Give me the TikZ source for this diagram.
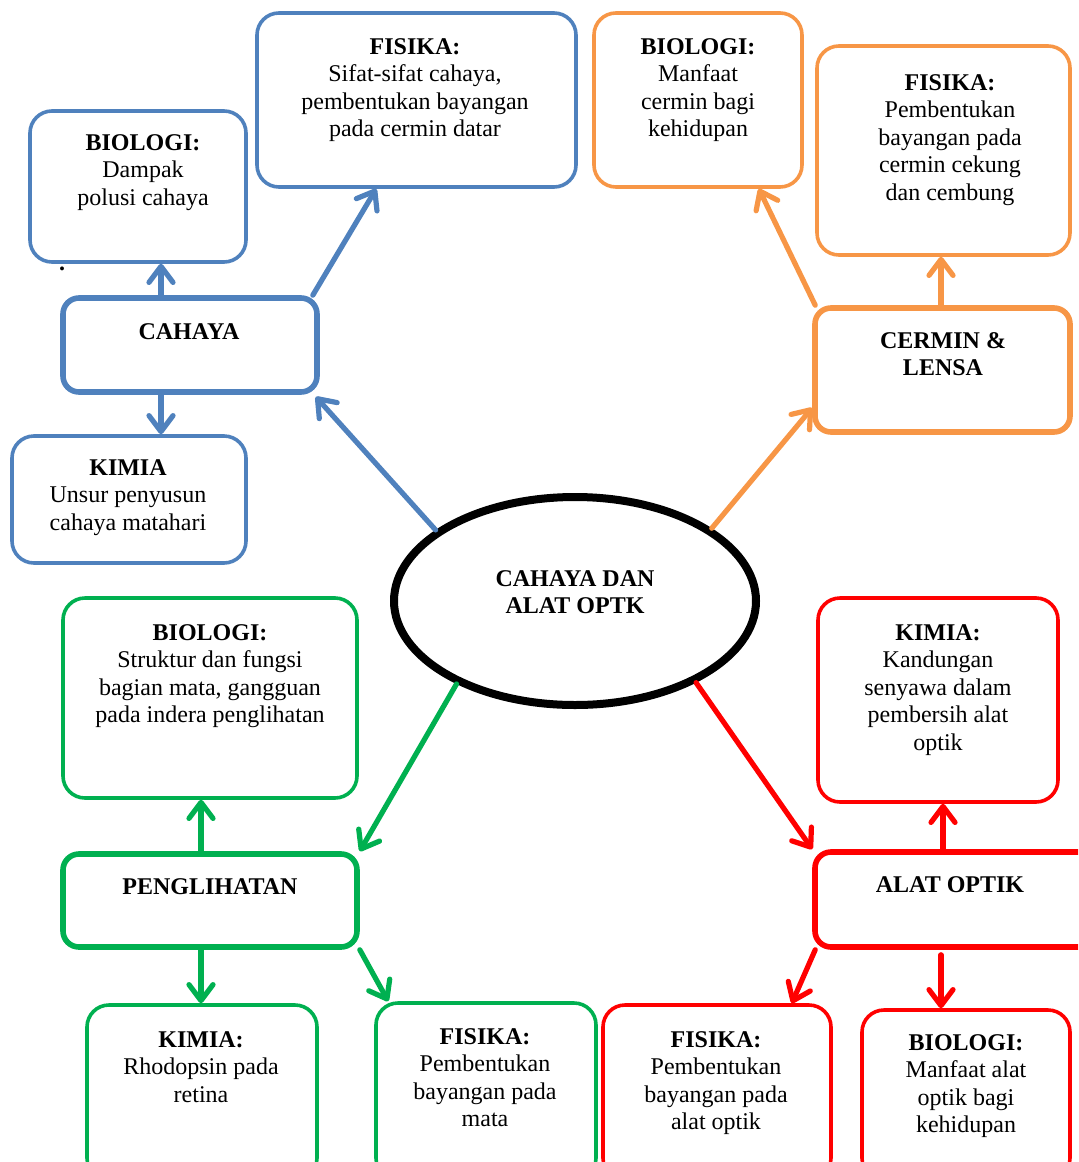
\documentclass[tikz,border=0pt]{standalone}
\usepackage{fontspec}
\setmainfont{Liberation Serif}
\usetikzlibrary{arrows.meta,calc,shapes.geometric}
\definecolor{cblue}{HTML}{4F81BD}
\definecolor{corange}{HTML}{F79646}
\definecolor{cgreen}{HTML}{00B050}
\definecolor{cred}{HTML}{FF0000}
\newcommand\mkbox[6]{\node[#2, minimum width={0.5pt*(#5-#3)}, minimum height={0.5pt*(#6-#4)}] (#1) at ({(#3+#5)/2},{(#4+#6)/2}) {};}
\tikzset{
  thinbox/.style={draw, rounded corners=11pt, line width=1.8pt, inner sep=0pt},
  thickbox/.style={draw, rounded corners=8pt, line width=2.8pt, inner sep=0pt},
  arr/.style={line width=2.6pt, line cap=round, -{Straight Barb[length=8pt,width=12pt,round]}},
  txt/.style={align=center, inner sep=0pt, anchor=north, font=\fontsize{12}{13.75}\selectfont}
}
\begin{document}
\begin{tikzpicture}[x=0.5pt,y=-0.5pt]
\useasboundingbox (0,0) rectangle (1078,1162);
\clip (0,0) rectangle (1078,1162);
% central ellipse
\node[ellipse, draw, line width=4pt, inner sep=0pt, minimum width=181pt, minimum height=104pt] (el) at (575,601) {};
\node[txt] (eltx) at (575,570) {\textbf{CAHAYA DAN}\\\textbf{ALAT OPTK}};
% blue
\mkbox{bbio}{thinbox, draw=cblue}{30}{111}{246}{262}
\mkbox{bfis}{thinbox, draw=cblue}{257}{13}{576}{187}
\mkbox{bcah}{thickbox, draw=cblue}{63}{298}{317}{392}
\mkbox{bkim}{thinbox, draw=cblue}{12}{436}{246}{563}
\node[txt] (tbbio) at (143,134) {\textbf{BIOLOGI:}\\Dampak\\polusi cahaya};
\node[txt] (tbfis) at (415,38) {\textbf{FISIKA:}\\Sifat-sifat cahaya,\\pembentukan bayangan\\pada cermin datar};
\node[txt] (tbcah) at (189,323) {\textbf{CAHAYA}};
\node[txt] (tbkim) at (128,459) {\textbf{KIMIA}\\Unsur penyusun\\cahaya matahari};
\node[inner sep=0pt, font=\fontsize{12}{13.75}\selectfont] (dot) at (62,269) {\textbf{.}};
% orange
\mkbox{obio}{thinbox, draw=corange}{594}{13}{802}{187}
\mkbox{ofis}{thinbox, draw=corange}{817}{46}{1070}{255}
\mkbox{ocer}{thickbox, draw=corange}{815}{308}{1070}{432}
\node[txt] (tobio) at (698,38) {\textbf{BIOLOGI:}\\Manfaat\\cermin bagi\\kehidupan};
\node[txt] (tofis) at (950,74) {\textbf{FISIKA:}\\Pembentukan\\bayangan pada\\cermin cekung\\dan cembung};
\node[txt] (tocer) at (943,332) {\textbf{CERMIN \&}\\\textbf{LENSA}};
% green
\mkbox{gbio}{thinbox, draw=cgreen}{63}{598}{357}{798}
\mkbox{gpen}{thickbox, draw=cgreen}{63}{854}{357}{947}
\mkbox{gkim}{thinbox, draw=cgreen}{87}{1005}{317}{1180}
\mkbox{gfis}{thinbox, draw=cgreen}{376}{1003}{596}{1180}
\node[txt] (tgbio) at (210,624) {\textbf{BIOLOGI:}\\Struktur dan fungsi\\bagian mata, gangguan\\pada indera penglihatan};
\node[txt] (tgpen) at (210,878) {\textbf{PENGLIHATAN}};
\node[txt] (tgkim) at (201,1031) {\textbf{KIMIA:}\\Rhodopsin pada\\retina};
\node[txt] (tgfis) at (485,1028) {\textbf{FISIKA:}\\Pembentukan\\bayangan pada\\mata};
% red
\mkbox{rkim}{thinbox, draw=cred}{818}{598}{1058}{802}
\mkbox{ralat}{thickbox, draw=cred}{815}{852}{1100}{947}
\mkbox{rfis}{thinbox, draw=cred}{603}{1005}{831}{1180}
\mkbox{rbio}{thinbox, draw=cred}{862}{1010}{1070}{1180}
\node[txt] (trkim) at (938,624) {\textbf{KIMIA:}\\Kandungan\\senyawa dalam\\pembersih alat\\optik};
\node[txt] (tralat) at (950,876) {\textbf{ALAT OPTIK}};
\node[txt] (trfis) at (716,1031) {\textbf{FISIKA:}\\Pembentukan\\bayangan pada\\alat optik};
\node[txt] (trbio) at (966,1034) {\textbf{BIOLOGI:}\\Manfaat alat\\optik bagi\\kehidupan};
% blue connectors
\draw[arr, cblue] (el.153) -- ([shift={(-4,2)}]bcah.south east);
\draw[arr, cblue] ([xshift=-3.5pt]bcah.north east) -- ($(bfis.south west)+(121,0)$);
\draw[arr, cblue] (bcah.north -| 161,0) -- (bbio.south -| 161,0);
\draw[arr, cblue] (bcah.south -| 161,0) -- (bkim.north -| 161,0);
% orange connectors
\draw[arr, corange] (el.28) -- ($(ocer.south west)+(0,-27)$);
\draw[arr, corange] ([xshift=1.5pt]ocer.north west) -- ($(obio.south east)+(-45,0)$);
\draw[arr, corange] (ocer.north -| 941,0) -- (ofis.south -| 941,0);
% green connectors
\draw[arr, cgreen] (el.215) -- (gpen.north east);
\draw[arr, cgreen] (gpen.north -| 201,0) -- (gbio.south -| 201,0);
\draw[arr, cgreen] (gpen.south -| 201,0) -- (gkim.north -| 201,0);
\draw[arr, cgreen] (gpen.south east) -- ($(gfis.north west)+(14,0)$);
% red connectors
\draw[arr, cred] (el.-34) -- (ralat.north west);
\draw[arr, cred] (ralat.north -| 943,0) -- (rkim.south -| 943,0);
\draw[arr, cred] ($(ralat.south -| 941,0)+(0,5)$) -- (rbio.north -| 941,0);
\draw[arr, cred] ([xshift=1.5pt]ralat.south west) -- ($(rfis.north east)+(-41,0)$);
\end{tikzpicture}
\end{document}
